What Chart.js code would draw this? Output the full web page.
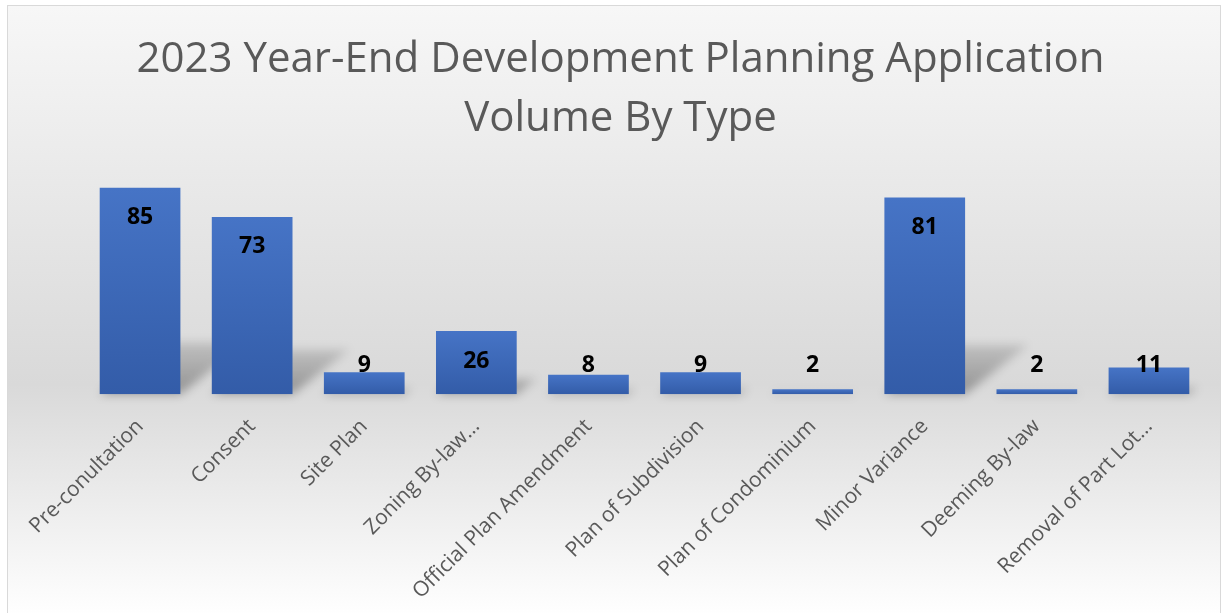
<!DOCTYPE html>
<html>
<head>
<meta charset="utf-8">
<script src="https://cdn.jsdelivr.net/npm/chart.js@4/dist/chart.umd.min.js"></script>
<style>
  html, body { margin: 0; padding: 0; background: #ffffff; }
  #box {
    position: absolute; left: 7px; top: 5px;
    width: 1214px; height: 612px;
    box-sizing: border-box;
    border: 1px solid #d9d9d9;
  }
</style>
</head>
<body>
<div id="box"><canvas id="myChart"></canvas></div>
<script>
var categories = [
  'Pre-conultation',
  'Consent',
  'Site Plan',
  'Zoning By-law\u2026',
  'Official Plan Amendment',
  'Plan of Subdivision',
  'Plan of Condominium',
  'Minor Variance',
  'Deeming By-law',
  'Removal of Part Lot\u2026'
];
var volumes = [85, 73, 9, 26, 8, 9, 2, 81, 2, 11];
var titleLines = ['2023 Year-End Development Planning Application', 'Volume By Type'];

// soft grey backdrop, darkest just under the bars
var backdrop = {
  id: 'backdrop',
  beforeDraw: function (chart) {
    var c = chart.ctx;
    var g = c.createLinearGradient(0, 0, 0, chart.height);
    g.addColorStop(0, '#f7f7f7');
    g.addColorStop(0.62, '#d9d9d9');
    g.addColorStop(1, '#ffffff');
    c.save();
    c.fillStyle = g;
    c.fillRect(0, 0, chart.width, chart.height);
    c.restore();
  }
};

// perspective shadow cast behind each bar
var barShadow = {
  id: 'barShadow',
  beforeDatasetsDraw: function (chart) {
    var c = chart.ctx;
    var bars = chart.getDatasetMeta(0).data;
    c.save();
    c.filter = 'blur(5px)';
    bars.forEach(function (b) {
      var h = b.base - b.y;
      var dx = h * 0.32, dy = h * 0.25;
      var left = b.x - b.width / 2, right = b.x + b.width / 2;
      var g = c.createLinearGradient(0, b.base, 0, b.base - dy - 1);
      g.addColorStop(0, 'rgba(0,0,0,0.32)');
      g.addColorStop(1, 'rgba(0,0,0,0.12)');
      c.fillStyle = g;
      c.beginPath();
      c.moveTo(left, b.base);
      c.lineTo(right, b.base);
      c.lineTo(right + dx, b.base - dy);
      c.lineTo(left + dx, b.base - dy);
      c.closePath();
      c.fill();
    });
    c.restore();
  }
};

// value labels just inside the top of each bar
var valueLabels = {
  id: 'valueLabels',
  afterDatasetsDraw: function (chart) {
    var c = chart.ctx;
    var bars = chart.getDatasetMeta(0).data;
    c.save();
    c.font = 'bold 23px "Open Sans"';
    c.fillStyle = '#000000';
    c.textAlign = 'center';
    c.textBaseline = 'middle';
    bars.forEach(function (b, i) {
      var y = Math.min(b.y + 30, b.base - 29);
      c.fillText(String(volumes[i]), b.x, y);
    });
    c.restore();
  }
};

function barFill(ctx) {
  var chart = ctx.chart;
  var y = chart.scales.y;
  if (!y || ctx.type !== 'data') return '#4472c4';
  var top = y.getPixelForValue(ctx.raw);
  var base = y.getPixelForValue(0);
  if (!isFinite(top) || !isFinite(base) || top === base) return '#4472c4';
  var g = chart.ctx.createLinearGradient(0, top, 0, base);
  g.addColorStop(0, '#4674c6');
  g.addColorStop(1, '#335ca8');
  return g;
}

var data = {
  labels: categories,
  datasets: [{
    label: 'Volume',
    data: volumes,
    backgroundColor: barFill,
    borderWidth: 0,
    categoryPercentage: 1.0,
    barPercentage: 0.72
  }]
};

var config = {
  type: 'bar',
  data: data,
  options: {
    responsive: true,
    maintainAspectRatio: false,
    animation: false,
    layout: { padding: { left: 28, right: 15, top: 0, bottom: 0 } },
    plugins: {
      legend: { display: false },
      tooltip: { enabled: false },
      title: {
        display: true,
        text: titleLines,
        color: '#595959',
        font: { family: '"Open Sans"', size: 42, weight: 'normal', lineHeight: 1.4 },
        padding: { top: 25, bottom: 27 }
      }
    },
    scales: {
      x: {
        grid: { display: false },
        border: { display: false },
        ticks: {
          color: '#595959',
          font: { family: '"Open Sans"', size: 21 },
          minRotation: 45,
          maxRotation: 45,
          autoSkip: false,
          padding: 12
        }
      },
      y: {
        min: 0,
        max: 90,
        grid: { display: false },
        border: { display: false },
        ticks: { display: false },
        // empty gutter so the plot starts where the labels need it
        afterFit: function (scale) { scale.width = 48; }
      }
    }
  },
  plugins: [backdrop, barShadow, valueLabels]
};

var myChart = new Chart(document.getElementById('myChart'), config);
</script>
</body>
</html>
